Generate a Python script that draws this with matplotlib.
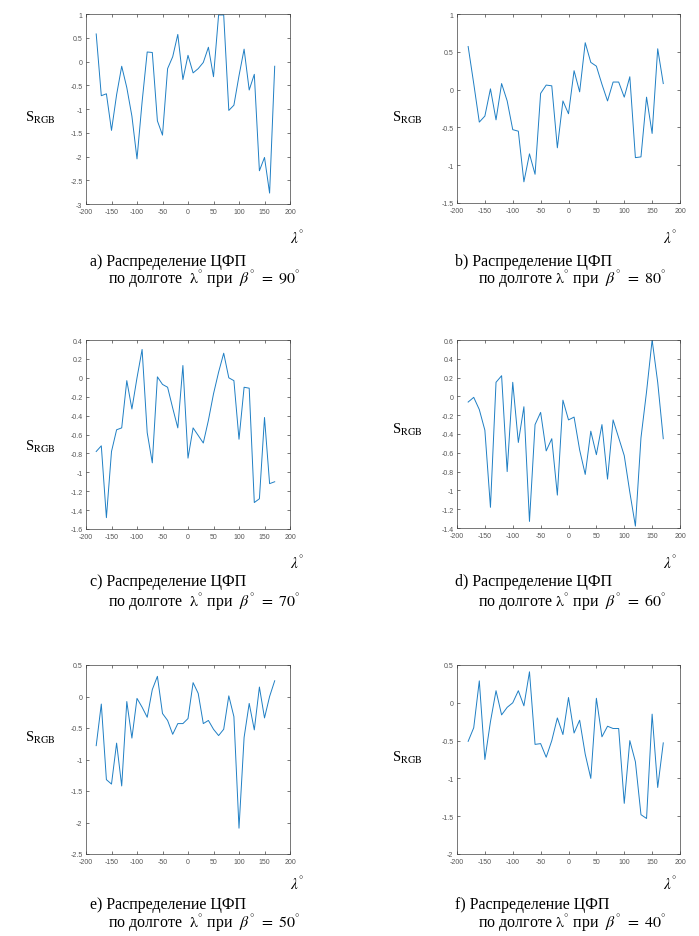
import matplotlib
matplotlib.use("Agg")
import matplotlib.pyplot as plt
import numpy as np

plt.rcParams['font.family'] = ['Liberation Serif', 'DejaVu Serif']
plt.rcParams['mathtext.fontset'] = 'stix'

lon = list(range(-180, 180, 10))

s_a = [0.58, -0.72, -0.68, -1.45, -0.70, -0.10, -0.55, -1.15, -2.05, -0.85,
       0.20, 0.19, -1.25, -1.55, -0.15, 0.10, 0.57, -0.38, 0.13, -0.24,
       -0.15, -0.02, 0.30, -0.32, 0.98, 0.98, -1.03, -0.92, -0.30, 0.26,
       -0.60, -0.27, -2.30, -2.02, -2.77, -0.10]
s_b = [0.57, 0.08, -0.43, -0.35, 0.01, -0.40, 0.08, -0.15, -0.53, -0.55,
       -1.22, -0.85, -1.12, -0.05, 0.06, 0.05, -0.77, -0.15, -0.32, 0.25,
       -0.03, 0.62, 0.36, 0.31, 0.07, -0.15, 0.10, 0.10, -0.10, 0.17,
       -0.90, -0.89, -0.10, -0.58, 0.54, 0.08]
s_c = [-0.78, -0.72, -1.48, -0.78, -0.55, -0.53, -0.03, -0.33, 0.00, 0.30,
       -0.58, -0.90, 0.01, -0.07, -0.10, -0.32, -0.53, 0.13, -0.85, -0.53,
       -0.61, -0.69, -0.45, -0.17, 0.06, 0.26, 0.00, -0.03, -0.65, -0.10,
       -0.11, -1.32, -1.28, -0.42, -1.12, -1.10]
s_d = [-0.06, -0.01, -0.14, -0.36, -1.18, 0.15, 0.22, -0.80, 0.15, -0.49,
       -0.11, -1.33, -0.30, -0.17, -0.58, -0.45, -1.05, -0.04, -0.25, -0.22,
       -0.57, -0.83, -0.37, -0.62, -0.30, -0.88, -0.25, -0.44, -0.63, -1.02,
       -1.38, -0.44, 0.05, 0.60, 0.15, -0.45]
s_e = [-0.78, -0.12, -1.32, -1.39, -0.74, -1.42, -0.08, -0.66, -0.03, -0.17,
       -0.33, 0.11, 0.32, -0.27, -0.38, -0.60, -0.43, -0.43, -0.35, 0.22,
       0.05, -0.43, -0.38, -0.52, -0.62, -0.52, 0.01, -0.32, -2.09, -0.65,
       -0.11, -0.53, 0.15, -0.34, 0.00, 0.25]
s_f = [-0.51, -0.33, 0.29, -0.75, -0.25, 0.16, -0.16, -0.06, 0.00, 0.16,
       -0.04, 0.41, -0.55, -0.54, -0.72, -0.50, -0.20, -0.42, 0.07, -0.40,
       -0.23, -0.68, -1.00, 0.06, -0.45, -0.31, -0.34, -0.34, -1.33, -0.50,
       -0.78, -1.48, -1.53, -0.15, -1.12, -0.53]

letters = ['a', 'b', 'c', 'd', 'e', 'f']
betas = [90, 80, 70, 60, 50, 40]
series = [s_a, s_b, s_c, s_d, s_e, s_f]
ylims = [(-3, 1, 0.5), (-1.5, 1, 0.5), (-1.6, 0.4, 0.2), (-1.4, 0.6, 0.2),
         (-2.5, 0.5, 0.5), (-2, 0.5, 0.5)]
xticks = list(range(-200, 201, 50))

W, H = 699, 937
fig = plt.figure(figsize=(W / 100, H / 100), dpi=100)

# pixel boxes: left, top, right, bottom
boxes = [(86, 15, 290, 205), (457, 15, 680, 204),
         (86, 341, 290, 530), (457, 341, 680, 529),
         (86, 666, 290, 855), (457, 666, 680, 855)]
ylab_pos = [(40, 118), (407, 118), (40, 447), (407, 430), (40, 738), (407, 758)]
lam_pos = [(297, 238), (670, 238), (297, 563), (670, 563), (297, 884), (670, 884)]
cap1_pos = [(90, 262), (455, 262), (90, 582), (455, 582), (90, 905), (455, 905)]
cap2_pos = [(108, 279), (478, 279), (108, 602), (478, 602), (108, 923), (478, 923)]
cap2_gap = [True, False, True, False, True, False]

axcol = '#404040'
for i in range(6):
    l, t, r, b = boxes[i]
    ax = fig.add_axes([l / W, 1 - b / H, (r - l) / W, (b - t) / H])
    ax.plot(lon, series[i], color='#1f7fc4', lw=0.7)
    ax.set_xlim(-200, 200)
    lo, hi, st = ylims[i]
    ax.set_ylim(lo, hi)
    yt = np.round(np.arange(lo, hi + st / 2, st), 2) + 0.0
    ax.set_yticks(yt)
    ax.set_yticklabels([('%g' % (0.0 if abs(v) < 1e-9 else v)) for v in yt],
                       family='Liberation Sans')
    ax.set_xticks(xticks)
    ax.set_xticklabels([str(v) for v in xticks], family='Liberation Sans')
    ax.tick_params(direction='in', length=2, width=0.5, labelsize=5,
                   colors=axcol, labelcolor='#555555', top=True, right=True)
    ax.tick_params(axis='x', pad=3.2)
    ax.tick_params(axis='y', pad=2.5)
    for sp in ax.spines.values():
        sp.set_linewidth(0.5)
        sp.set_color(axcol)

    x, y = ylab_pos[i]
    fig.text(x / W, 1 - y / H, r'S$_{\mathrm{RGB}}$', fontsize=10.5,
             ha='center', va='center')
    x, y = lam_pos[i]
    fig.text(x / W, 1 - y / H, r'$\lambda^{\degree}$', fontsize=11,
             ha='center', va='center')
    x, y = cap1_pos[i]
    fig.text(x / W, 1 - y / H, '%s) Распределение ЦФП' % letters[i],
             fontsize=11.5, ha='left', va='center')
    x, y = cap2_pos[i]
    gap = ' ' if cap2_gap[i] else ''
    fig.text(x / W, 1 - y / H,
             'по долготе ' + gap + r'$\mathrm{\lambda}^{\degree}$ при  $\beta^{\degree}\ =\ %d^{\degree}$' % betas[i],
             fontsize=11.5, ha='left', va='center')

fig.savefig('out.png', dpi=100, facecolor='white')
